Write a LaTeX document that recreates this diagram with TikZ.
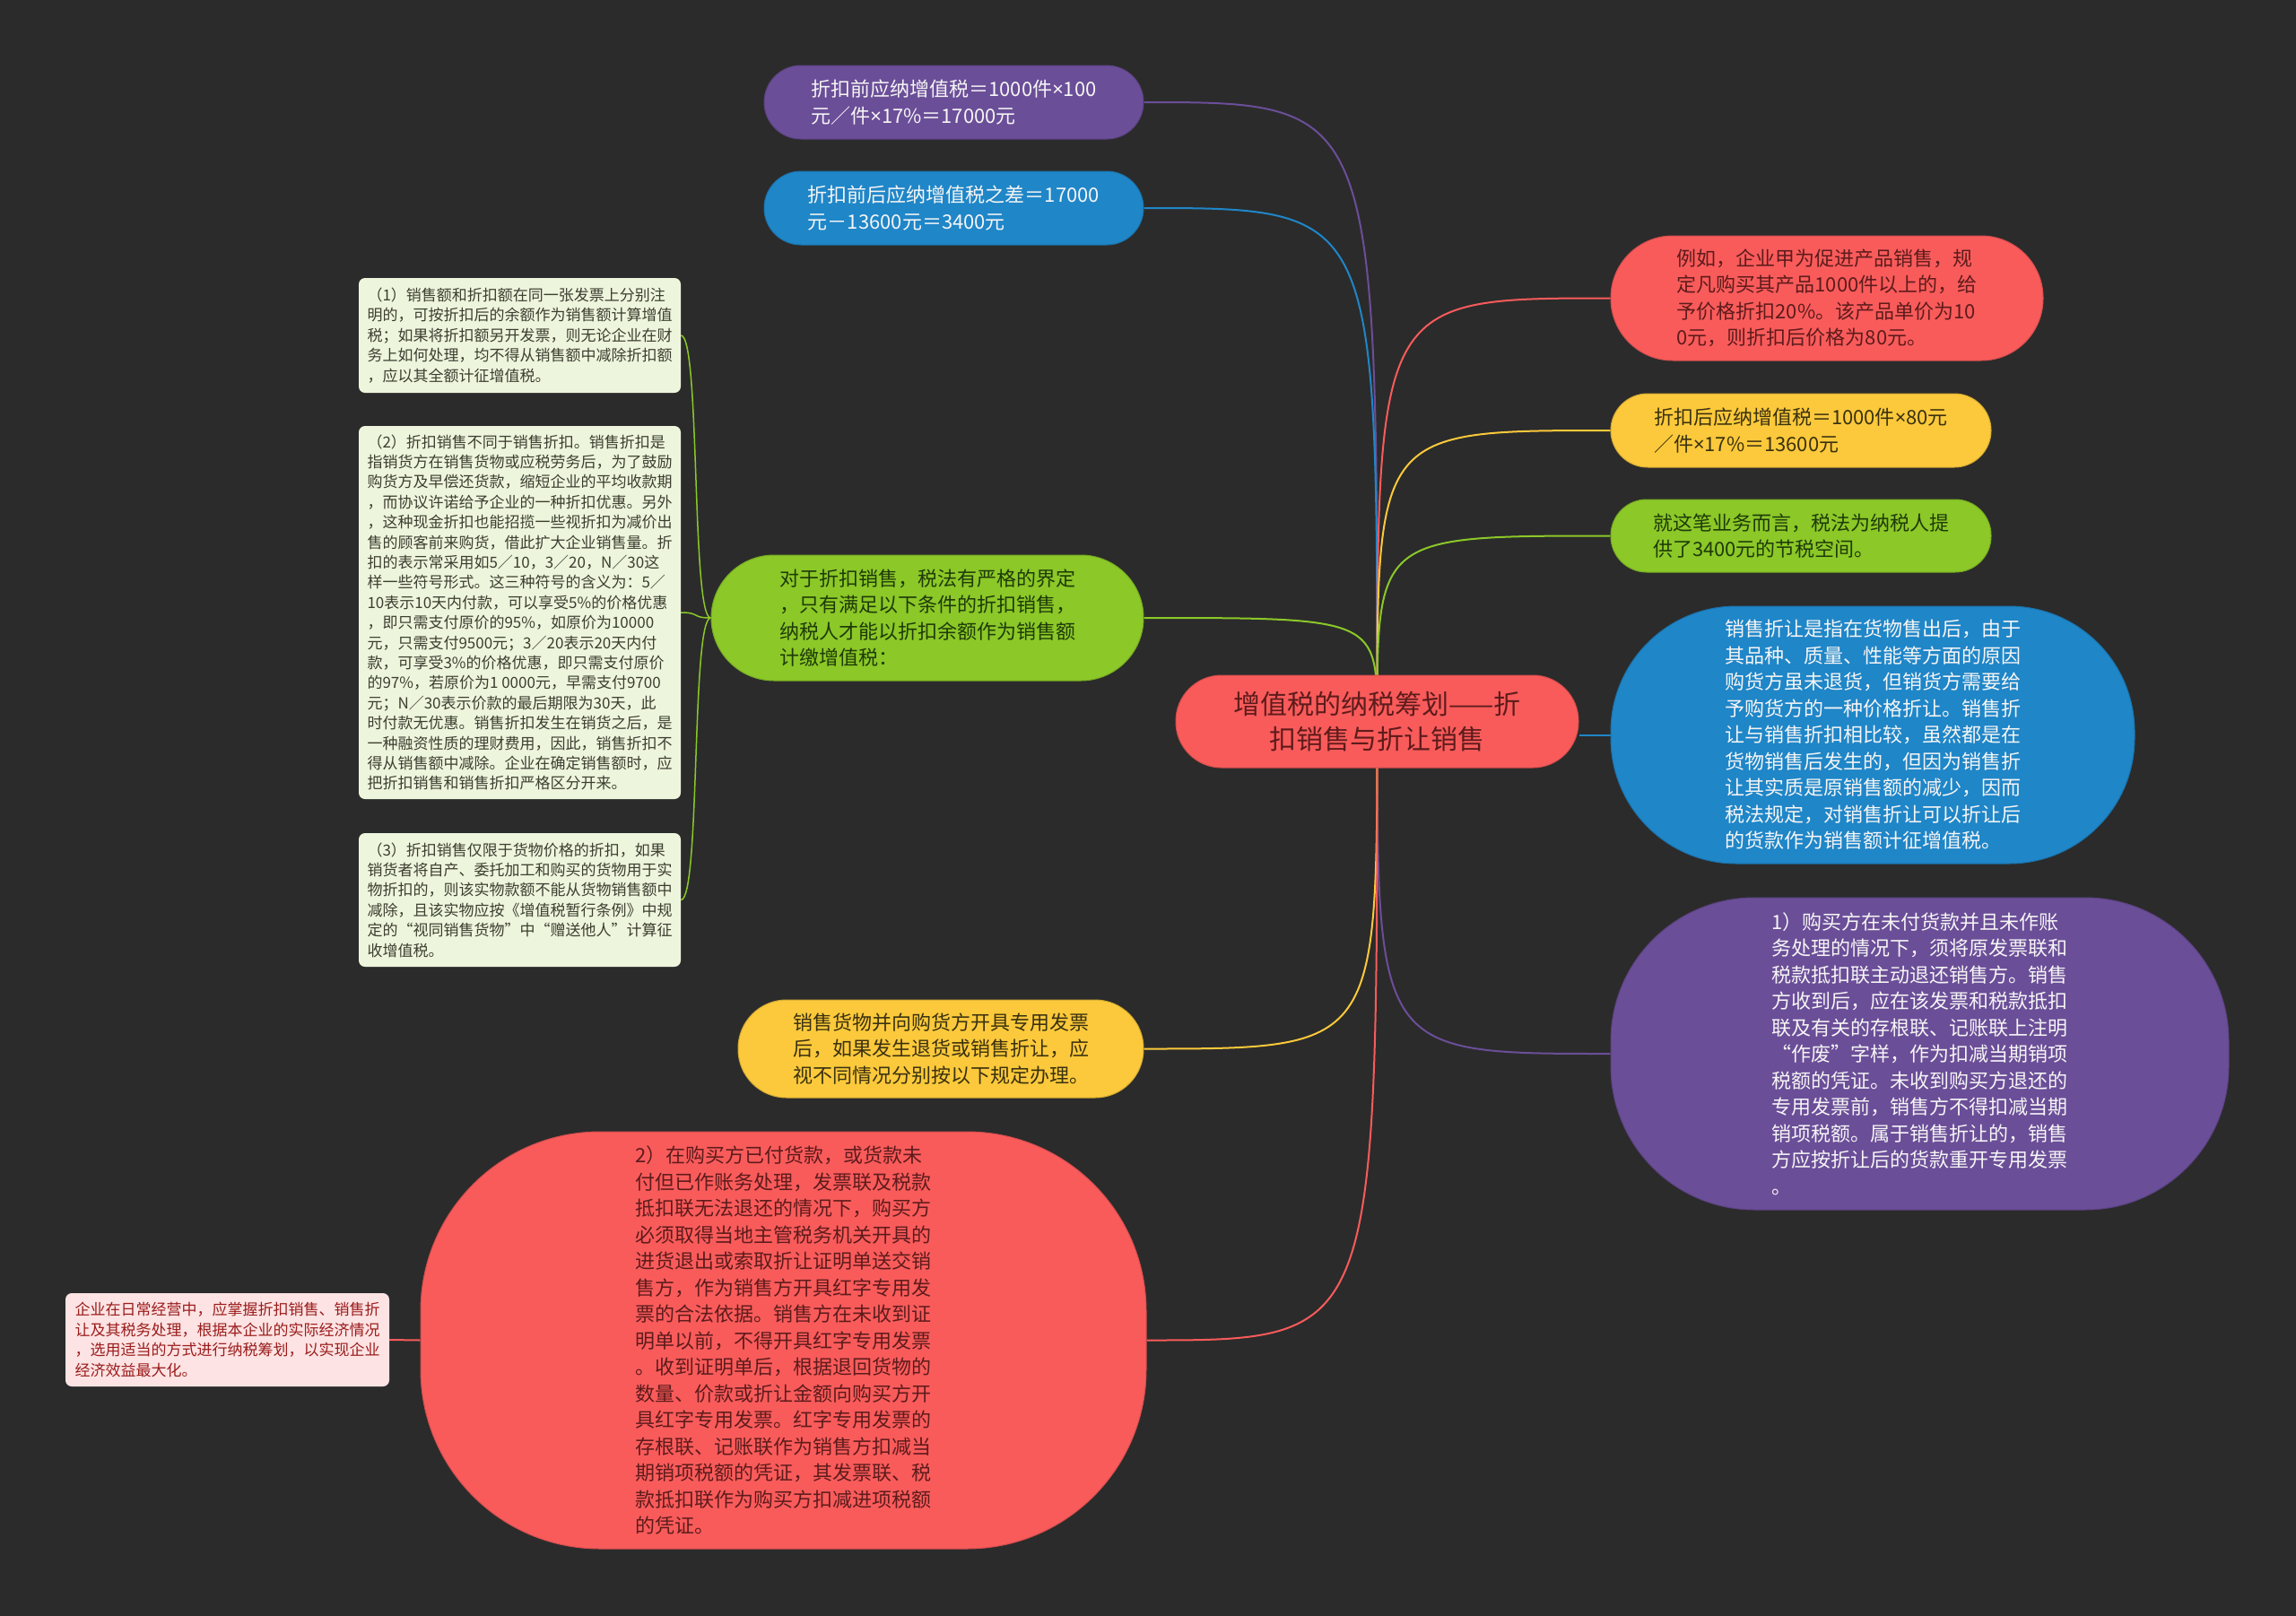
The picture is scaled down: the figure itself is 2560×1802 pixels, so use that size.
\documentclass[tikz,border=0pt]{standalone}
\usepackage{fontspec}
\setmainfont{Noto Sans CJK SC}
\newfontfamily\latinf{Noto Sans}
\newcommand\tms{{\latinf ×}}
\usetikzlibrary{backgrounds,calc}
\definecolor{bgc}{HTML}{2B2B2B}
\definecolor{cred}{HTML}{F95B5B}
\definecolor{cpur}{HTML}{6B4E98}
\definecolor{cblu}{HTML}{1F86C8}
\definecolor{cyel}{HTML}{FBC93B}
\definecolor{cgrn}{HTML}{8BC828}
\definecolor{leaf}{HTML}{EEF5DD}
\definecolor{pinkf}{HTML}{FDE3E3}
\definecolor{tred}{HTML}{5E1B1B}
\definecolor{tyel}{HTML}{3A3110}
\definecolor{tgrn}{HTML}{1F3A08}
\definecolor{tleaf}{HTML}{3C3E30}
\definecolor{tpink}{HTML}{9B1C1C}
\definecolor{twhite}{HTML}{F5F5F5}
\begin{document}
\begin{tikzpicture}[x=1pt,y=-1pt,
  base/.style={inner sep=0pt, align=left, font=\fontsize{22}{29.5}\selectfont},
  blob/.style 2 args={base, rounded corners=#1, fill=#2, draw=#2!85!black, line width=1pt},
  leafbox/.style={inner sep=0pt, align=left, font=\fontsize{17}{22.4}\selectfont, rounded corners=7pt, fill=leaf, text=tleaf, minimum width=359pt},
  link/.style={line width=2pt},
  leaflink/.style={line width=1.5pt, cgrn}
]
\useasboundingbox (0,0) rectangle (2560,1802);

% root
\node[blob={51pt}{cred}, text=tred, align=center, font=\fontsize{30}{39}\selectfont, minimum width=449pt, minimum height=103pt] (root) at (1535.5,804.5)
 {增值税的纳税筹划——折\\扣销售与折让销售};

% top-left pills
\node[blob={41pt}{cpur}, text=twhite, minimum width=423pt, minimum height=82pt] (ptop) at (1063.5,114)
 {折扣前应纳增值税＝1000件\tms100\\元／件\tms17\%＝17000元};
\node[blob={41pt}{cblu}, text=twhite, minimum width=423pt, minimum height=82pt] (btop) at (1063.5,232)
 {折扣前后应纳增值税之差＝17000\\元－13600元＝3400元};

% right side
\node[blob={69pt}{cred}, text=tred, minimum width=482pt, minimum height=139pt] (rred) at (2037,332.5)
 {例如，企业甲为促进产品销售，规\\定凡购买其产品1000件以上的，给\\予价格折扣20\%。该产品单价为10\\0元，则折扣后价格为80元。};
\node[blob={41pt}{cyel}, text=tyel, minimum width=424pt, minimum height=82pt] (ryel) at (2008,480)
 {折扣后应纳增值税＝1000件\tms80元\\／件\tms17\%＝13600元};
\node[blob={40pt}{cgrn}, text=tgrn, minimum width=424pt, minimum height=81pt] (rgrn) at (2008,597.5)
 {就这笔业务而言，税法为纳税人提\\供了3400元的节税空间。};
\node[blob={140pt}{cblu}, text=twhite, minimum width=584pt, minimum height=287pt] (rblue) at (2088,819.5)
 {销售折让是指在货物售出后，由于\\其品种、质量、性能等方面的原因\\购货方虽未退货，但销货方需要给\\予购货方的一种价格折让。销售折\\让与销售折扣相比较，虽然都是在\\货物销售后发生的，但因为销售折\\让其实质是原销售额的减少，因而\\税法规定，对销售折让可以折让后\\的货款作为销售额计征增值税。};
\node[blob={160pt}{cpur}, text=twhite, minimum width=689pt, minimum height=348pt] (rpur) at (2140.5,1175)
 {1）购买方在未付货款并且未作账\\务处理的情况下，须将原发票联和\\税款抵扣联主动退还销售方。销售\\方收到后，应在该发票和税款抵扣\\联及有关的存根联、记账联上注明\\“作废”字样，作为扣减当期销项\\税额的凭证。未收到购买方退还的\\专用发票前，销售方不得扣减当期\\销项税额。属于销售折让的，销售\\方应按折让后的货款重开专用发票\\。};

% left side
\node[blob={70pt}{cgrn}, text=tgrn, minimum width=482pt, minimum height=140pt] (lgrn) at (1034,689)
 {对于折扣销售，税法有严格的界定\\，只有满足以下条件的折扣销售，\\纳税人才能以折扣余额作为销售额\\计缴增值税：};
\node[blob={54pt}{cyel}, text=tyel, minimum width=452pt, minimum height=109pt] (lyel) at (1049,1169.5)
 {销售货物并向购货方开具专用发票\\后，如果发生退货或销售折让，应\\视不同情况分别按以下规定办理。};
\node[blob={200pt}{cred}, text=tred, minimum width=809pt, minimum height=465pt] (lred) at (873.5,1494.5)
 {2）在购买方已付货款，或货款未\\付但已作账务处理，发票联及税款\\抵扣联无法退还的情况下，购买方\\必须取得当地主管税务机关开具的\\进货退出或索取折让证明单送交销\\售方，作为销售方开具红字专用发\\票的合法依据。销售方在未收到证\\明单以前，不得开具红字专用发票\\。收到证明单后，根据退回货物的\\数量、价款或折让金额向购买方开\\具红字专用发票。红字专用发票的\\存根联、记账联作为销售方扣减当\\期销项税额的凭证，其发票联、税\\款抵扣联作为购买方扣减进项税额\\的凭证。};

% leaf boxes
\node[leafbox, minimum height=128pt] (box1) at (579.5,374)
 {（1）销售额和折扣额在同一张发票上分别注\\明的，可按折扣后的余额作为销售额计算增值\\税；如果将折扣额另开发票，则无论企业在财\\务上如何处理，均不得从销售额中减除折扣额\\，应以其全额计征增值税。};
\node[leafbox, minimum height=416pt] (box2) at (579.5,683)
 {（2）折扣销售不同于销售折扣。销售折扣是\\指销货方在销售货物或应税劳务后，为了鼓励\\购货方及早偿还货款，缩短企业的平均收款期\\，而协议许诺给予企业的一种折扣优惠。另外\\，这种现金折扣也能招揽一些视折扣为减价出\\售的顾客前来购货，借此扩大企业销售量。折\\扣的表示常采用如5／10，3／20，N／30这\\样一些符号形式。这三种符号的含义为：5／\\10表示10天内付款，可以享受5\%的价格优惠\\，即只需支付原价的95\%，如原价为10000\\元，只需支付9500元；3／20表示20天内付\\款，可享受3\%的价格优惠，即只需支付原价\\的97\%，若原价为1 0000元，早需支付9700\\元；N／30表示价款的最后期限为30天，此\\时付款无优惠。销售折扣发生在销货之后，是\\一种融资性质的理财费用，因此，销售折扣不\\得从销售额中减除。企业在确定销售额时，应\\把折扣销售和销售折扣严格区分开来。};
\node[leafbox, minimum height=149pt] (box3) at (579.5,1003.5)
 {（3）折扣销售仅限于货物价格的折扣，如果\\销货者将自产、委托加工和购买的货物用于实\\物折扣的，则该实物款额不能从货物销售额中\\减除，且该实物应按《增值税暂行条例》中规\\定的“视同销售货物”中“赠送他人”计算征\\收增值税。};
\node[leafbox, fill=pinkf, text=tpink, minimum width=361pt, minimum height=104pt] (pink) at (253.5,1494)
 {企业在日常经营中，应掌握折扣销售、销售折\\让及其税务处理，根据本企业的实际经济情况\\，选用适当的方式进行纳税筹划，以实现企业\\经济效益最大化。};

\begin{scope}[on background layer]
\fill[bgc] (0,0) rectangle (2560,1802);
\draw[link, cpur] (ptop.east) .. controls (root.center |- ptop.east) .. (root.center);
\draw[link, cblu] (btop.east) .. controls (root.center |- btop.east) .. (root.center);
\draw[link, cgrn] (lgrn.east) .. controls (root.center |- lgrn.east) .. (root.center);
\draw[link, cred] (rred.west) .. controls (root.center |- rred.west) .. (root.center);
\draw[link, cyel] (ryel.west) .. controls (root.center |- ryel.west) .. (root.center);
\draw[link, cgrn] (rgrn.west) .. controls (root.center |- rgrn.west) .. (root.center);
\draw[link, cblu] (rblue.west -| root.east) -- (rblue.west);
\draw[link, cpur] (rpur.west) .. controls (root.center |- rpur.west) .. (root.center);
\draw[link, cyel] (lyel.east) .. controls (root.center |- lyel.east) .. (root.center);
\draw[link, cred] (lred.east) .. controls (root.center |- lred.east) .. (root.center);
\draw[leaflink] (lgrn.west) .. controls +(-22,0) and +(22,0) .. (box1.east);
\draw[leaflink] (lgrn.west) .. controls +(-22,0) and +(22,0) .. (box2.east);
\draw[leaflink] (lgrn.west) .. controls +(-22,0) and +(22,0) .. (box3.east);
\draw[link, cred] (pink.east) -- (lred.west);
\end{scope}
\end{tikzpicture}
\end{document}
